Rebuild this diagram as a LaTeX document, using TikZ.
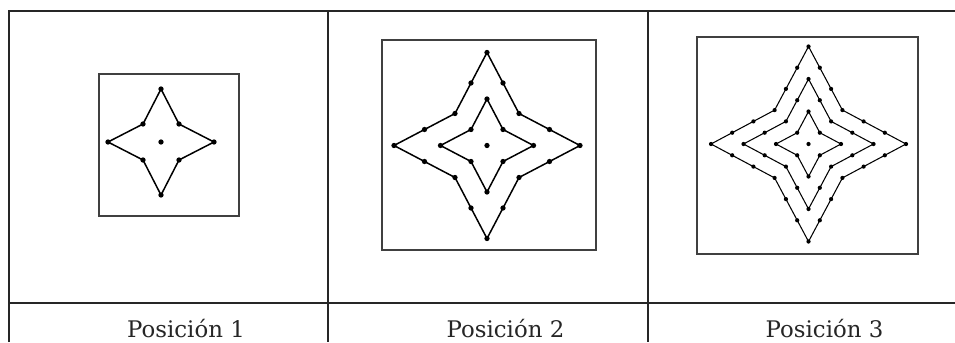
\documentclass[tikz,border=0pt]{standalone}
\usepackage{fontspec}
\setmainfont{DejaVu Serif}
\usepackage{tikz}
\usetikzlibrary{calc}

\tikzset{
  rule/.style={line width=1.4pt, draw=black!85},
  frame/.style={line width=0.7pt, draw=black!75},
  starline/.style={line width=0.85pt, line join=miter},
  dotc/.style={fill=black},
  poslabel/.style={anchor=base, inner sep=0pt, font=\fontsize{13}{15}\selectfont, text=black!85}
}

% center x, center y, layer, tip step, corner step, dot radius
\newcommand{\starlayer}[6]{
  \pgfmathsetmacro{\tipr}{#3*#4}
  \pgfmathsetmacro{\cornr}{#3*#5}
  \coordinate (t0) at (#1,#2-\tipr);
  \coordinate (c0) at (#1+\cornr,#2-\cornr);
  \coordinate (t1) at (#1+\tipr,#2);
  \coordinate (c1) at (#1+\cornr,#2+\cornr);
  \coordinate (t2) at (#1,#2+\tipr);
  \coordinate (c2) at (#1-\cornr,#2+\cornr);
  \coordinate (t3) at (#1-\tipr,#2);
  \coordinate (c3) at (#1-\cornr,#2-\cornr);
  \draw[starline] (t0) -- (c0) -- (t1) -- (c1) -- (t2) -- (c2) -- (t3) -- (c3) -- cycle;
  \foreach \p/\q in {t0/c0,c0/t1,t1/c1,c1/t2,t2/c2,c2/t3,t3/c3,c3/t0} {
    \foreach \j [evaluate=\j as \fr using (\j-1)/#3] in {1,...,#3} {
      \fill[dotc] ($(\p)!\fr!(\q)$) circle (#6);
    }
  }
}

\begin{document}
\begin{tikzpicture}[x=0.02cm, y=-0.02cm]
    \useasboundingbox (0,0) rectangle (955,342);

    % table
    \draw[rule] (9,342) -- (9,11) -- (955,11);
    \draw[rule] (9,303) -- (955,303);
    \draw[rule] (328,11) -- (328,342);
    \draw[rule] (648,11) -- (648,342);

    % frames
    \draw[frame] (99,74) rectangle (239,216);
    \draw[frame] (382,40) rectangle (596,250);
    \draw[frame] (697,37) rectangle (918,254);

    % stars
    \starlayer{161}{142}{1}{53}{18}{1.5pt}
    \fill[dotc] (161,142) circle (1.5pt);

    \foreach \k in {1,2} {
        \starlayer{487}{145.5}{\k}{46.5}{16}{1.5pt}
    }
    \fill[dotc] (487,145.5) circle (1.5pt);

    \begin{scope}[starline/.style={line width=0.6pt, line join=miter}]
        \foreach \k in {1,2,3} {
            \starlayer{808.5}{144}{\k}{32.5}{11.3}{1.2pt}
        }
        \fill[dotc] (808.5,144) circle (1.2pt);
    \end{scope}

    \node[poslabel] (lbl1) at (186,337) {Posición 1};
    \node[poslabel] (lbl2) at (505.5,337) {Posición 2};
    \node[poslabel] (lbl3) at (824.5,337) {Posición 3};
\end{tikzpicture}
\end{document}
